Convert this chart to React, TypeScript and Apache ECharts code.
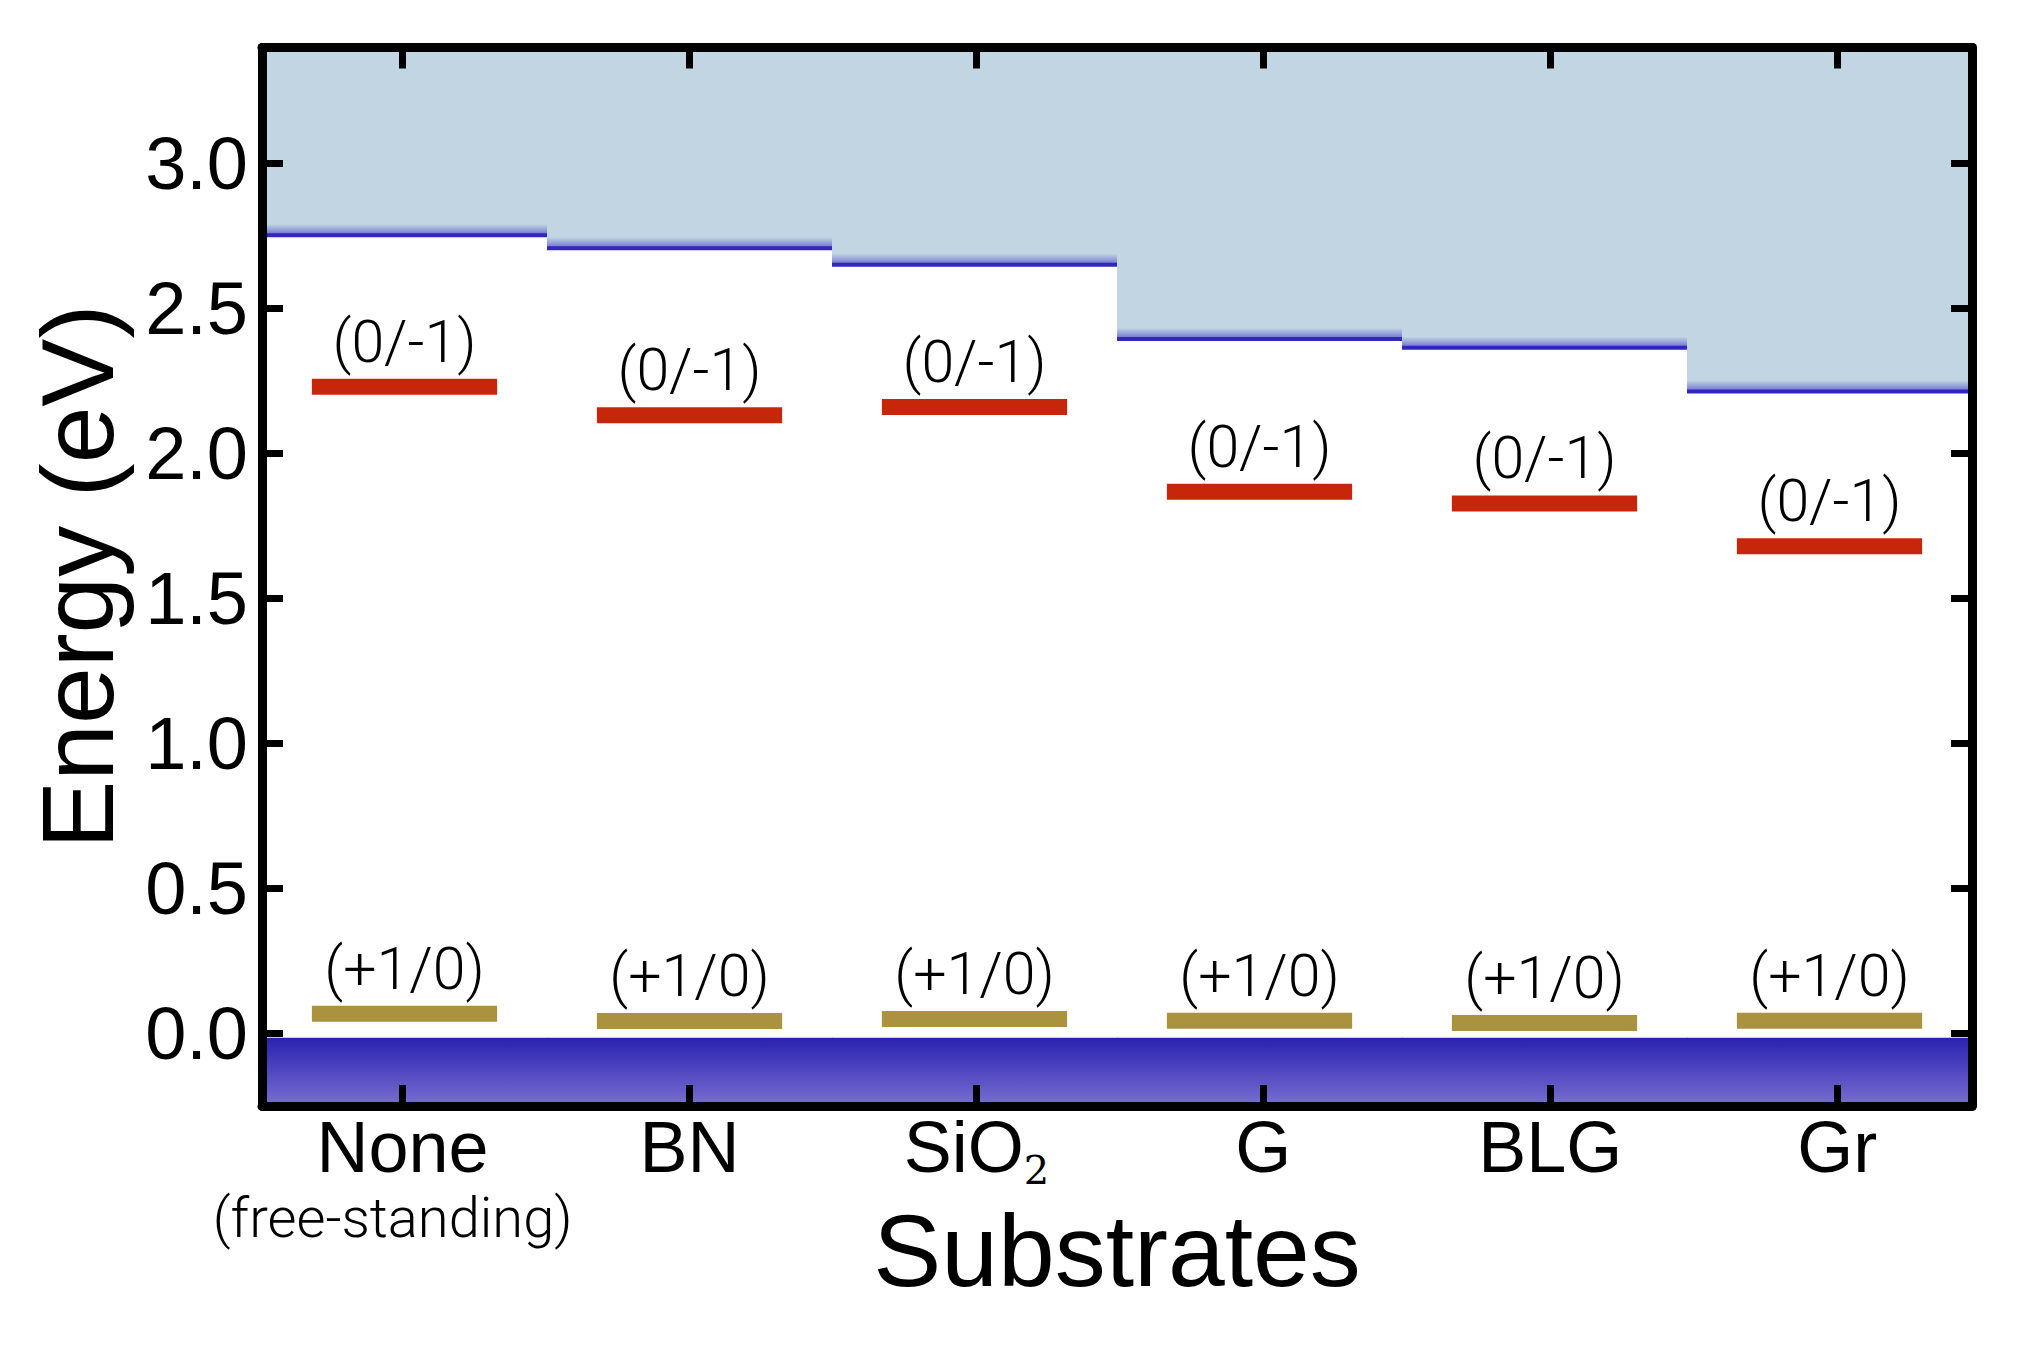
import React, { useEffect, useRef } from 'react';
import * as echarts from 'echarts';

// ---- data ----
const categories = ['None', 'BN', 'SiO2', 'G', 'BLG', 'Gr'];
const conductionEdge = [2.753, 2.708, 2.651, 2.395, 2.365, 2.214];
const acceptorLevel = [2.23, 2.132, 2.16, 1.868, 1.828, 1.68]; // (0/-1)
const donorLevel = [0.068, 0.043, 0.05, 0.044, 0.036, 0.044]; // (+1/0)
const valenceEdge = [-0.015, -0.015, -0.015, -0.015, -0.015, -0.015];
const acceptorLabel = '(0/-1)';
const donorLabel = '(+1/0)';
const yTickValues = [0, 0.5, 1.0, 1.5, 2.0, 2.5, 3.0];
const xTickValues = [0, 1, 2, 3, 4, 5];

const BLACK = '#000000';
const CB_FILL = '#c1d5e2';
const CB_LINE = '#3127c0';
const VB_TOP = '#2a21b0';
const VB_BOTTOM = '#7870d0';
const RED = '#c8260a';
const GOLD = '#ab923e';

export default function App() {
  const ref = useRef<HTMLDivElement>(null);

  useEffect(() => {
    document.body.style.margin = '0';
    const chart = echarts.init(ref.current!, null, { renderer: 'svg' });

    const lineStyle = { color: BLACK, width: 9 };
    const tickStyle = { color: BLACK, width: 7 };

    const xBase = {
      type: 'value',
      min: -0.49,
      max: 5.47,
      z: 10,
      splitLine: { show: false },
      axisLine: { show: true, onZero: false, lineStyle },
      axisTick: { show: true, inside: true, length: 21, lineStyle: tickStyle, customValues: xTickValues },
    };
    const yBase = {
      type: 'value',
      min: -0.25,
      max: 3.4,
      z: 10,
      splitLine: { show: false },
      axisLine: { show: true, onZero: false, lineStyle },
      axisTick: { show: true, inside: true, length: 21, lineStyle: tickStyle, customValues: yTickValues },
    };

    const levelSeries = (values: number[], color: string, label: string) => ({
      type: 'custom',
      xAxisIndex: 2,
      z: 5,
      data: values.map((v, i) => [i, v]),
      renderItem: (params: any, api: any) => {
        const i = api.value(0);
        const v = api.value(1);
        const w = api.size([1, 0])[0] * 0.65;
        const [cx, cy] = api.coord([i, v]);
        return {
          type: 'group',
          children: [
            { type: 'rect', shape: { x: cx - w / 2, y: cy - 8, width: w, height: 16 }, style: { fill: color } },
            {
              type: 'text',
              style: {
                text: label,
                x: cx,
                y: cy - 8 - 8,
                align: 'center',
                verticalAlign: 'bottom',
                fontSize: 59,
                fontFamily: 'Roboto',
                fontWeight: 300,
                fill: BLACK,
              },
            },
          ],
        };
      },
    });

    const option: any = {
      animation: false,
      backgroundColor: '#ffffff',
      grid: { left: 262, right: 49, top: 47.5, bottom: 244, containLabel: false },
      xAxis: [
        {
          ...xBase,
          position: 'bottom',
          axisLabel: {
            show: true,
            customValues: xTickValues,
            margin: 3,
            formatter: (v: number) => {
              const name = categories[Math.round(v)];
              if (name === 'None') return '{a|None}\n{f|(free-standing)}';
              if (name === 'SiO2') return '{a|SiO}{s|2}';
              return `{a|${name}}`;
            },
            rich: {
              a: { fontSize: 72, lineHeight: 76, fontFamily: 'Liberation Sans', color: BLACK },
              f: { fontSize: 56, lineHeight: 66, fontFamily: 'Roboto', fontWeight: 300, color: BLACK, padding: [0, 20, 0, 0] },
              s: { fontSize: 40, height: 30, verticalAlign: 'bottom', fontFamily: 'DejaVu Serif', color: BLACK },
            },
          },
          name: 'Substrates',
          nameLocation: 'middle',
          nameGap: 94,
          nameMoveOverlap: false,
          nameTextStyle: { fontSize: 102, fontFamily: 'Liberation Sans', color: BLACK },
        },
        { ...xBase, position: 'top', axisLabel: { show: false } },
        {
          type: 'category',
          data: categories,
          boundaryGap: true,
          show: false,
          position: 'bottom',
          axisLine: { show: false },
          axisTick: { show: false },
          axisLabel: { show: false },
          splitLine: { show: false },
        },
      ],
      yAxis: [
        {
          ...yBase,
          position: 'left',
          axisLabel: {
            show: true,
            customValues: yTickValues,
            margin: 14,
            padding: [0, 0, 12, 0],
            fontSize: 74,
            fontFamily: 'Liberation Sans',
            color: BLACK,
            formatter: (v: number) => v.toFixed(1),
          },
          name: 'Energy (eV)',
          nameLocation: 'middle',
          nameGap: 133,
          nameMoveOverlap: false,
          nameTextStyle: { fontSize: 102, fontFamily: 'Liberation Sans', color: BLACK },
        },
        { ...yBase, position: 'right', axisLabel: { show: false } },
      ],
      series: [
        {
          type: 'custom',
          xAxisIndex: 2,
          z: 1,
          data: conductionEdge.map((v, i) => [i, v]),
          renderItem: (params: any, api: any) => {
            const i = api.value(0);
            const v = api.value(1);
            const cs = params.coordSys;
            const bw = api.size([1, 0])[0];
            const [cx, yE] = api.coord([i, v]);
            const x0 = Math.max(cs.x, cx - bw / 2);
            const x1 = Math.min(cs.x + cs.width, cx + bw / 2 + 0.6);
            const w = x1 - x0;
            return {
              type: 'group',
              children: [
                { type: 'rect', shape: { x: x0, y: cs.y, width: w, height: yE - cs.y }, style: { fill: CB_FILL } },
                {
                  type: 'rect',
                  shape: { x: x0, y: yE - 11, width: w, height: 11 },
                  style: {
                    fill: new echarts.graphic.LinearGradient(0, 0, 0, 1, [
                      { offset: 0, color: CB_FILL },
                      { offset: 1, color: '#6a6cd0' },
                    ]),
                  },
                },
                { type: 'rect', shape: { x: x0, y: yE - 2, width: w, height: 4 }, style: { fill: CB_LINE } },
              ],
            };
          },
        },
        {
          type: 'custom',
          xAxisIndex: 2,
          z: 1,
          data: valenceEdge.map((v, i) => [i, v]),
          renderItem: (params: any, api: any) => {
            const i = api.value(0);
            const v = api.value(1);
            const cs = params.coordSys;
            const bw = api.size([1, 0])[0];
            const [cx, yT] = api.coord([i, v]);
            const x0 = Math.max(cs.x, cx - bw / 2);
            const x1 = Math.min(cs.x + cs.width, cx + bw / 2 + 0.6);
            return {
              type: 'rect',
              shape: { x: x0, y: yT, width: x1 - x0, height: cs.y + cs.height - yT },
              style: {
                fill: new echarts.graphic.LinearGradient(0, 0, 0, 1, [
                  { offset: 0, color: VB_TOP },
                  { offset: 1, color: VB_BOTTOM },
                ]),
              },
            };
          },
        },
        levelSeries(acceptorLevel, RED, acceptorLabel),
        levelSeries(donorLevel, GOLD, donorLabel),
      ],
    };

    chart.setOption(option);
    return () => chart.dispose();
  }, []);

  return <div ref={ref} style={{ width: 2021, height: 1350 }} />;
}
